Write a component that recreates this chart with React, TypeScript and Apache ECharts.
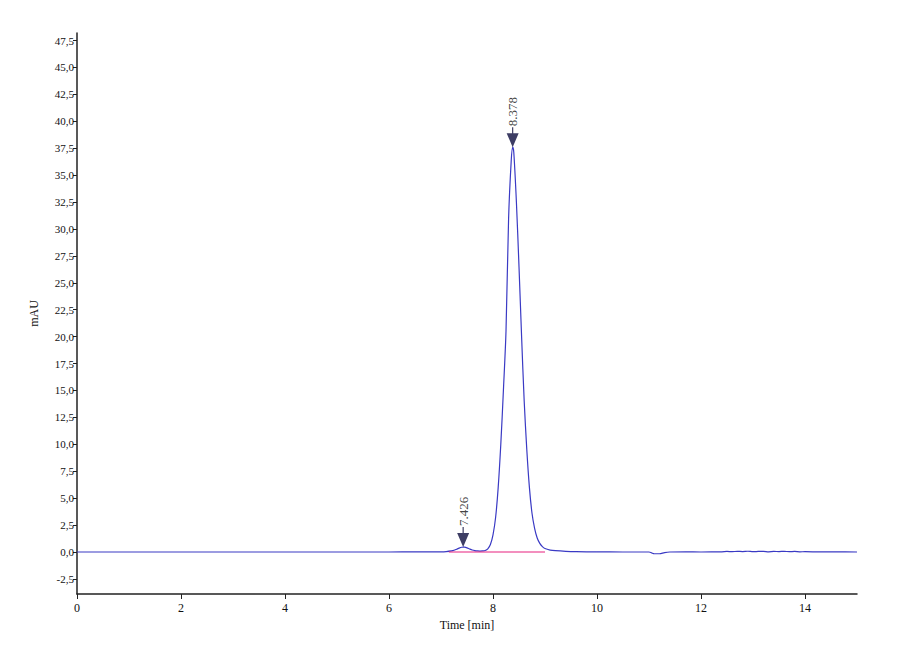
import React, { useEffect, useRef } from 'react';
import * as echarts from 'echarts';

// chromatogram trace: [time (min), signal (mAU)]
const traceTimes = [
  0, 1, 2, 3, 4, 5, 6, 6.5, 7.0, 7.1, 7.2, 7.25, 7.3, 7.35, 7.4, 7.426, 7.45, 7.5, 7.55, 7.6, 7.65, 7.7,
  7.75, 7.8, 7.85, 7.9, 7.95, 8.0, 8.05, 8.1, 8.15, 8.2, 8.25, 8.3, 8.35, 8.378, 8.4, 8.45, 8.5, 8.55,
  8.6, 8.65, 8.7, 8.75, 8.8, 8.85, 8.9, 8.95, 9.0, 9.1, 9.2, 9.4, 9.6, 10.0, 10.5, 11.0, 11.05, 11.1,
  11.2, 11.3, 11.4, 11.7, 12.0, 12.4, 12.5, 12.6, 12.7, 12.8, 12.9, 13.0, 13.1, 13.2, 13.3, 13.4, 13.5,
  13.6, 13.7, 13.8, 13.9, 14.0, 14.3, 14.6, 15.0,
];
const traceValues = [
  0, 0, 0, 0, 0, 0, 0, 0.01, 0.02, 0.04, 0.1, 0.16, 0.26, 0.36, 0.44, 0.46, 0.45, 0.38, 0.28, 0.19, 0.13, 0.1,
  0.09, 0.1, 0.14, 0.3, 0.7, 1.6, 3.2, 6.0, 10.0, 15.0, 20.5, 31.0, 36.3, 37.6, 37.1, 32.5, 26.5, 20.0,
  14.0, 9.5, 6.0, 3.6, 2.2, 1.3, 0.8, 0.5, 0.32, 0.18, 0.12, 0.06, 0.03, 0.01, 0, 0, -0.08, -0.16,
  -0.16, -0.05, 0, 0.01, 0, 0.02, 0.05, 0.03, 0.06, 0.04, 0.07, 0.03, 0.05, 0.06, 0.02, 0.05, 0.04,
  0.06, 0.03, 0.05, 0.02, 0.03, 0.01, 0.02, 0,
];

// integration baseline
const baselineTimes = [7.15, 9.0];
const baselineValues = [0, 0];

// detected peaks
const peakTimes = [7.426, 8.378];
const peakHeights = [0.46, 37.6];
const peakLabels = ['7.426', '8.378'];

const yTicks = [-2.5, 0, 2.5, 5, 7.5, 10, 12.5, 15, 17.5, 20, 22.5, 25, 27.5, 30, 32.5, 35, 37.5, 40, 42.5, 45, 47.5];
const xTicks = [0, 2, 4, 6, 8, 10, 12, 14];

const fontFamily = '"Liberation Serif", "DejaVu Serif", serif';

const App: React.FC = () => {
  const chartRef = useRef<HTMLDivElement>(null);

  useEffect(() => {
    const chart = echarts.init(chartRef.current!, null, { renderer: 'svg' });

    const trace = traceTimes.map((t, i) => [t, traceValues[i]]);
    const baseline = baselineTimes.map((t, i) => [t, baselineValues[i]]);
    const peaks = peakTimes.map((t, i) => ({ value: [t, peakHeights[i]], name: peakLabels[i] }));

    const options = {
      animation: false,
      backgroundColor: '#ffffff',
      grid: { left: 77, right: 43, top: 33, bottom: 66 },
      xAxis: {
        type: 'value',
        min: 0,
        max: 15,
        name: 'Time [min]',
        nameLocation: 'middle',
        nameGap: 22,
        nameTextStyle: { fontFamily, fontSize: 12, color: '#111' },
        splitLine: { show: false },
        axisLine: { onZero: false, lineStyle: { color: '#222', width: 1.5 } },
        axisTick: { show: true, length: 5, lineStyle: { color: '#222' }, customValues: xTicks },
        axisLabel: {
          fontFamily,
          fontSize: 12,
          color: '#111',
          margin: 8,
          customValues: xTicks,
          formatter: (v: number) => String(v),
        },
      },
      yAxis: {
        type: 'value',
        min: -3.9,
        max: 48.2,
        name: 'mAU',
        nameLocation: 'middle',
        nameGap: 37,
        nameTextStyle: { fontFamily, fontSize: 12, color: '#111' },
        splitLine: { show: false },
        axisLine: { show: true, lineStyle: { color: '#222', width: 1.5 } },
        axisTick: { show: true, length: 4, lineStyle: { color: '#222' }, customValues: yTicks },
        axisLabel: {
          fontFamily,
          fontSize: 11,
          color: '#111',
          margin: 3,
          customValues: yTicks,
          formatter: (v: number) => v.toFixed(1).replace('.', ','),
        },
      },
      series: [
        {
          // detector signal
          type: 'line',
          data: trace,
          showSymbol: false,
          smooth: 0.3,
          lineStyle: { color: '#3a3ac4', width: 1.2 },
          z: 2,
        },
        {
          // integration baseline
          type: 'line',
          data: baseline,
          showSymbol: false,
          lineStyle: { color: '#e8207e', width: 1.2 },
          z: 3,
        },
        {
          // peak markers
          type: 'scatter',
          data: peaks,
          symbol: 'path://M5.4,0 L6.6,0 L6.6,6 L12,6 L6,20 L0,6 L5.4,6 Z',
          symbolSize: [12, 20],
          symbolOffset: [0, '-50%'],
          itemStyle: { color: '#0d0d3d' },
          label: {
            show: true,
            position: 'top',
            distance: 1,
            rotate: 90,
            align: 'left',
            verticalAlign: 'middle',
            fontFamily,
            fontSize: 13,
            color: '#111',
            formatter: (p: any) => p.name,
          },
          z: 4,
        },
      ],
    };

    chart.setOption(options);

    return () => {
      chart.dispose();
    };
  }, []);

  return (
    <div
      ref={chartRef}
      style={{ position: 'absolute', left: 0, top: 0, width: '900px', height: '660px' }}
    />
  );
};

export default App;
